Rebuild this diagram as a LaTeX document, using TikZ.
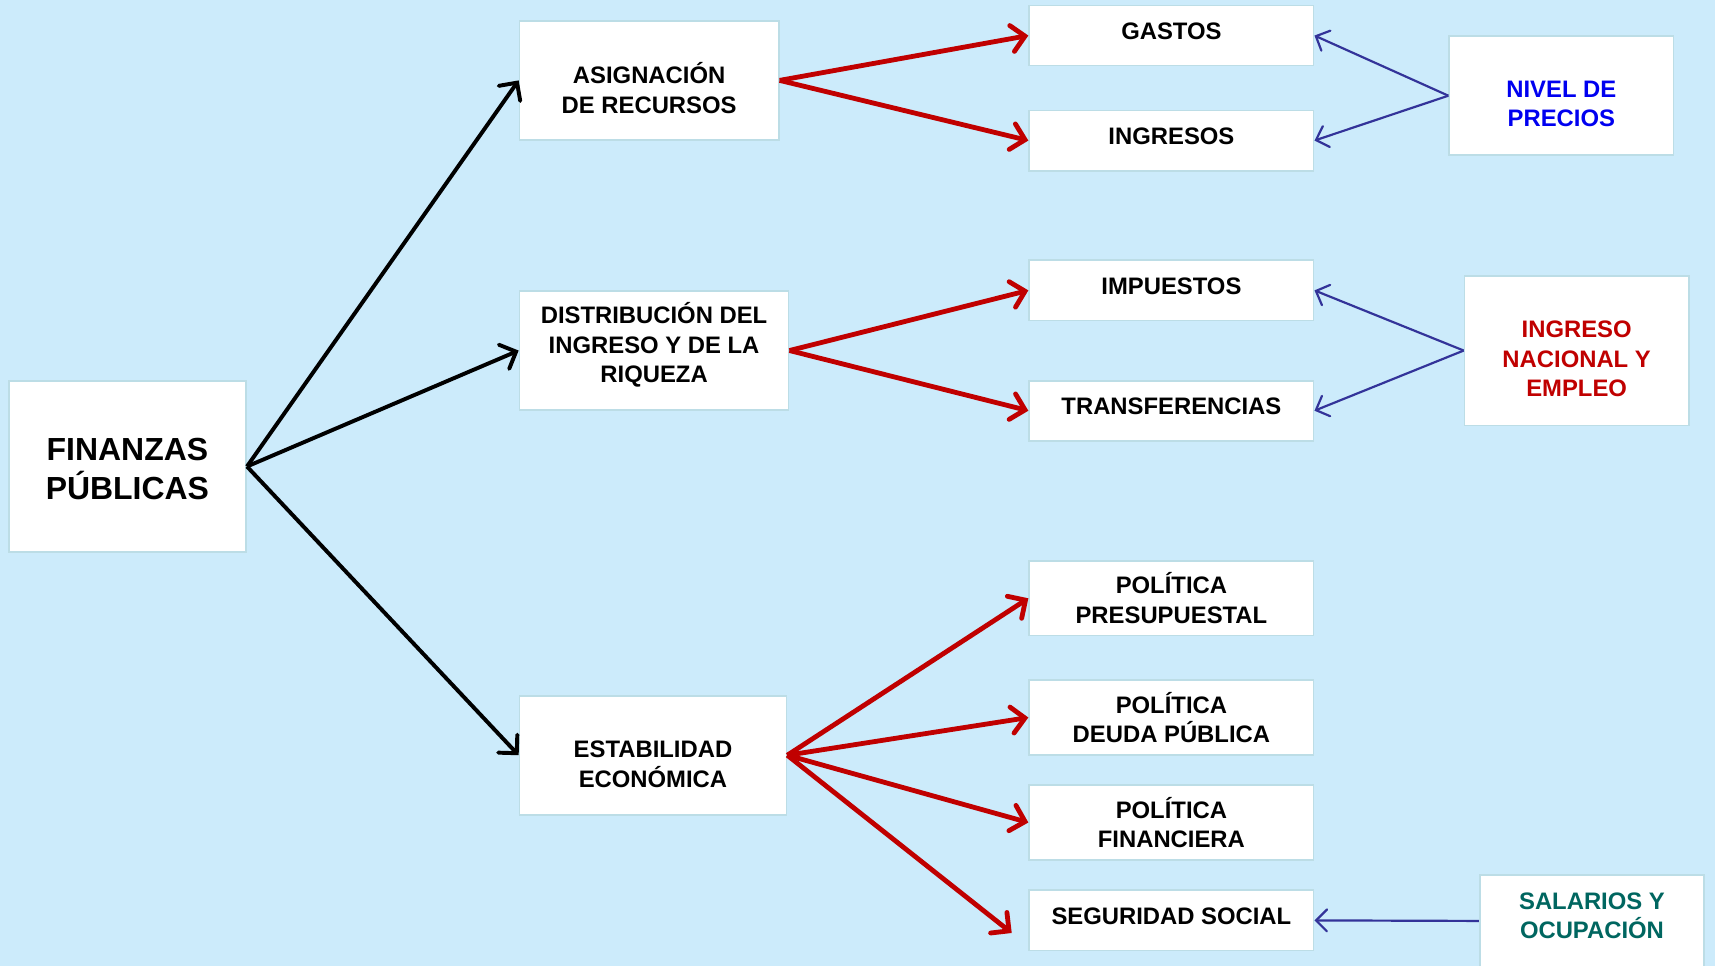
\documentclass[tikz,border=0pt]{standalone}
\usepackage{fontspec}
\setmainfont{Liberation Sans}
\usepackage{tikz}
\usetikzlibrary{arrows.meta}

\definecolor{fondo}{HTML}{CCEBFB}
\definecolor{borde}{HTML}{BCDDE6}
\definecolor{rojo}{HTML}{C00000}
\definecolor{azul}{HTML}{333399}
\definecolor{precios}{HTML}{0000F0}
\definecolor{verde}{HTML}{006660}

\begin{document}
\begin{tikzpicture}[
  x=0.5pt, y=-0.5pt,
  caja/.style={rectangle, draw=borde, line width=0.8pt, fill=white, align=center, inner sep=0pt,
    minimum width=130pt, minimum height=27.5pt, font=\bfseries\fontsize{10.9}{13.5}\selectfont},
  una/.style={caja, text depth=4pt},
  doble/.style={caja, minimum height=34pt},
  grande/.style={caja, minimum width=122pt, minimum height=54.5pt},
  lateral/.style={caja, minimum width=102.5pt, minimum height=54.5pt},
  negra/.style={-{Straight Barb[length=6pt, width=12pt, line cap=round]}, black, line width=1.8pt},
  roja/.style={-{Straight Barb[length=6pt, width=12pt, line cap=round]}, rojo, line width=2.2pt},
  azula/.style={-{Straight Barb[length=5pt, width=10pt, line cap=round]}, azul, line width=1pt}
]
\useasboundingbox[fill=fondo] (0,0) rectangle (1568,883);

\node[caja, minimum width=108.5pt, minimum height=78.5pt, text height=30pt, font=\bfseries\fontsize{14.6}{17.5}\selectfont] (fin) at (116.5,426.5) {FINANZAS\\PÚBLICAS};

\node[grande, minimum width=118.5pt, text height=30.4pt] (asig) at (593.5,73.5) {ASIGNACIÓN\\DE RECURSOS};
\node[grande, minimum width=123pt, text depth=7pt] (dist) at (598,320.5) {DISTRIBUCIÓN DEL\\INGRESO Y DE LA\\RIQUEZA};
\node[grande, text height=29.3pt] (estab) at (597,690.5) {ESTABILIDAD\\ECONÓMICA};

\node[una] (gastos) at (1071,32.5) {GASTOS};
\node[una] (ingresos) at (1071,128.5) {INGRESOS};
\node[una] (impuestos) at (1071,265.5) {IMPUESTOS};
\node[una] (transf) at (1071,375.5) {TRANSFERENCIAS};
\node[doble] (presup) at (1071,547) {POLÍTICA\\PRESUPUESTAL};
\node[doble] (deuda) at (1071,656) {POLÍTICA\\DEUDA PÚBLICA};
\node[doble] (financ) at (1071,752) {POLÍTICA\\FINANCIERA};
\node[una] (segur) at (1071,841.5) {SEGURIDAD SOCIAL};

\node[lateral, text height=28.3pt, text=precios] (nivel) at (1427.5,87.5) {NIVEL DE\\PRECIOS};
\node[lateral, minimum height=68.5pt, text height=42.2pt, text=rojo] (ingnac) at (1441.5,320.5) {INGRESO\\NACIONAL Y\\EMPLEO};
\node[lateral, minimum height=42pt, text depth=5pt, text=verde] (salar) at (1455.5,842) {SALARIOS Y\\OCUPACIÓN};
\coordinate (segfin) at (925,853);

\draw[negra] (fin.east) -- (asig.west);
\draw[negra] (fin.east) -- (dist.west);
\draw[negra] (fin.east) -- (estab.west);

\draw[roja] (asig.east) -- (gastos.west);
\draw[roja] (asig.east) -- (ingresos.west);
\draw[roja] (dist.east) -- (impuestos.west);
\draw[roja] (dist.east) -- (transf.west);
\draw[roja] (estab.east) -- (presup.west);
\draw[roja] (estab.east) -- (deuda.west);
\draw[roja] (estab.east) -- (financ.west);
\draw[roja] (estab.east) -- (segfin);

\draw[azula] (nivel.west) -- (gastos.east);
\draw[azula] (nivel.west) -- (ingresos.east);
\draw[azula] (ingnac.west) -- (impuestos.east);
\draw[azula] (ingnac.west) -- (transf.east);
\draw[azula] (salar.west) -- (segur.east);
\end{tikzpicture}
\end{document}
